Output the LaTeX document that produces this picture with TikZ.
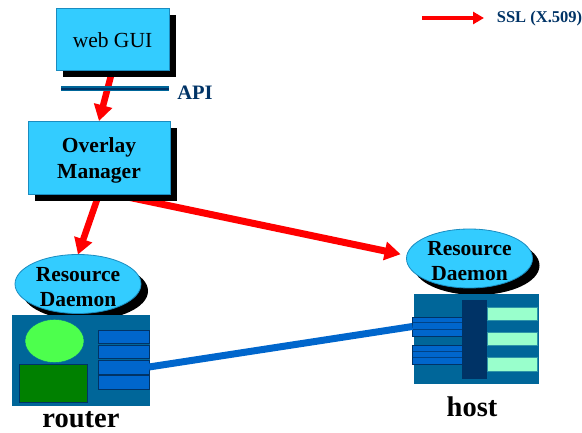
\documentclass[tikz,border=0pt]{standalone}
\usepackage{fontspec}
\setmainfont{Liberation Serif}
\usetikzlibrary{shapes.geometric,shadows,backgrounds,arrows.meta}

\definecolor{skybox}{HTML}{33CCFF}
\definecolor{skyedge}{HTML}{1A8CC0}
\definecolor{chassis}{HTML}{006699}
\definecolor{portblue}{HTML}{0066CC}
\definecolor{navy}{HTML}{003366}
\definecolor{limegreen}{HTML}{4DFF4D}
\definecolor{darkgreen}{HTML}{008000}
\definecolor{mint}{HTML}{99FFCC}

\newcommand{\droptext}[1]{\rule{0pt}{#1}}

\tikzset{
  blackshadow/.style={drop shadow={shadow xshift=7pt,shadow yshift=-7pt,fill=black,opacity=1}},
  panel/.style={rectangle,draw=skyedge,fill=skybox,line width=0.8pt,blackshadow,outer sep=0pt,inner sep=0pt,align=center,font=\fontsize{21.5}{26}\selectfont},
  daemon/.style={ellipse,draw=skyedge,fill=skybox,line width=0.8pt,blackshadow,outer sep=0pt,inner xsep=0pt,inner ysep=-12pt,minimum width=126pt,minimum height=59pt,align=center,font=\fontsize{21.5}{25}\selectfont\bfseries},
  plate/.style={rectangle,fill=chassis,outer sep=0pt,inner sep=0pt},
  portbox/.style={rectangle,draw=navy,fill=portblue,line width=0.6pt,outer sep=0pt,inner sep=0pt},
  ssl/.style={draw=red,line width=6.5pt,-{Triangle[length=16pt,width=18pt]}},
  devicelabel/.style={inner sep=0pt,font=\fontsize{28.5}{30}\selectfont\bfseries},
  bluelabel/.style={text=navy,inner sep=0pt}
}

\begin{document}
\begin{tikzpicture}[x=1pt,y=-1pt]
\useasboundingbox (0,0) rectangle (582,433);

%% manager side
\node (gui) at (112.5,39) [panel,minimum width=113pt,minimum height=62pt] {\droptext{18pt}web GUI};
\node (manager) at (99,157.5) [panel,minimum width=142pt,minimum height=73pt] {\droptext{21pt}\bfseries Overlay\\\bfseries Manager};

%% daemons
\node (routerd) at (78,284) [daemon] {\droptext{20pt}Resource\\Daemon};
\node (hostd) at (469.5,258.5) [daemon] {\droptext{20pt}Resource\\Daemon};

%% router
\node (router) at (81,360.5) [plate,minimum width=138pt,minimum height=91pt] {};
\node (cpu) at (54.5,341) [ellipse,draw=chassis,fill=limegreen,outer sep=0pt,minimum width=59pt,minimum height=43pt] {};
\node (memory) at (53,383) [rectangle,draw=navy,fill=darkgreen,outer sep=0pt,minimum width=68pt,minimum height=38pt] {};
\node (rport1) at (123.5,336.5) [portbox,minimum width=51pt,minimum height=13pt] {};
\node (rport2) at (123.5,351.5) [portbox,minimum width=51pt,minimum height=13pt] {};
\node (rport3) at (123.5,367) [portbox,minimum width=51pt,minimum height=14pt] {};
\node (rport4) at (123.5,382) [portbox,minimum width=51pt,minimum height=14pt] {};
\node (routerlabel) at (81,420) [devicelabel] {router};

%% host
\node (host) at (476.5,339) [plate,minimum width=125pt,minimum height=90pt] {};
\node (hport1) at (437.5,326.5) [portbox,minimum width=50pt,minimum height=19pt] {};
\node (hport2) at (437.5,355) [portbox,minimum width=50pt,minimum height=19pt] {};
\draw[navy!70!portblue,line width=1pt] (hport1.west |- 0,323) -- (hport1.east |- 0,323);
\draw[navy!70!portblue,line width=1pt] (hport1.west |- 0,330) -- (hport1.east |- 0,330);
\draw[navy!70!portblue,line width=1pt] (hport2.west |- 0,352) -- (hport2.east |- 0,352);
\draw[navy!70!portblue,line width=1pt] (hport2.west |- 0,358) -- (hport2.east |- 0,358);
\node (bus) at (474.5,339.5) [rectangle,fill=navy,outer sep=0pt,minimum width=25pt,minimum height=79pt] {};
\node (nic1) at (512,313.5) [rectangle,fill=mint,draw=chassis!70!mint,outer sep=0pt,minimum width=50pt,minimum height=13pt] {};
\node (nic2) at (512,338.5) [rectangle,fill=mint,draw=chassis!70!mint,outer sep=0pt,minimum width=50pt,minimum height=13pt] {};
\node (nic3) at (512,364) [rectangle,fill=mint,draw=chassis!70!mint,outer sep=0pt,minimum width=50pt,minimum height=14pt] {};
\node (hostlabel) at (472,407) [devicelabel] {host};

%% links
\draw[portblue,line width=7pt] (rport3.east) -- (hport1.west);

%% ssl arrows
\begin{scope}[on background layer]
\draw[ssl] (gui.south) -- (manager.north);
\draw[ssl] (manager.south) -- (routerd.north);
\draw[ssl,line width=7pt,shorten >=6pt] ([yshift=3pt]manager.south) -- ([yshift=3pt]hostd.west);
\end{scope}

%% api
\coordinate (apileft) at (61,89);
\coordinate (apiright) at (169,89);
\draw[chassis,line width=5pt] (apileft) -- (apiright);
\draw[navy,line width=2.6pt] (apileft) -- (apiright);
\node (api) at (195,93) [bluelabel,font=\fontsize{20.5}{22}\selectfont\bfseries] {API};

%% legend
\coordinate (keystart) at (422,18);
\coordinate (keyend) at (484,18);
\node (sslkey) at (539.5,18.5) [bluelabel,font=\fontsize{16.5}{18}\selectfont\bfseries] {SSL (X.509)};
\draw[draw=red,line width=3.5pt,-{Triangle[length=11pt,width=12pt]}] (keystart) -- (keyend);
\end{tikzpicture}
\end{document}
